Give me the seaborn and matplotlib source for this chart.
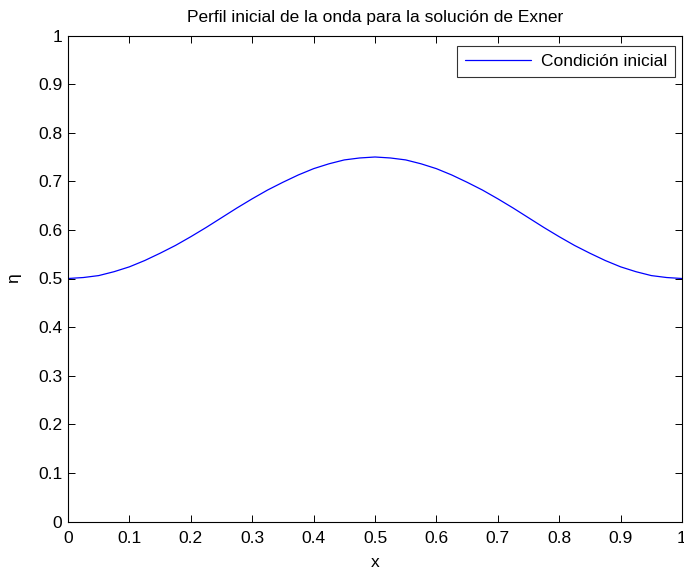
import matplotlib
matplotlib.use("Agg")
import matplotlib.pyplot as plt
import seaborn as sns
import pandas as pd

# Initial bed profile for the Exner problem
x_vals = [0.000, 0.025, 0.050, 0.075, 0.100, 0.125, 0.150, 0.175, 0.200, 0.225,
          0.250, 0.275, 0.300, 0.325, 0.350, 0.375, 0.400, 0.425, 0.450, 0.475,
          0.500, 0.525, 0.550, 0.575, 0.600, 0.625, 0.650, 0.675, 0.700, 0.725,
          0.750, 0.775, 0.800, 0.825, 0.850, 0.875, 0.900, 0.925, 0.950, 0.975,
          1.000]
eta_vals = [0.500, 0.502, 0.506, 0.514, 0.524, 0.537, 0.552, 0.568, 0.586, 0.605,
            0.625, 0.645, 0.664, 0.682, 0.698, 0.713, 0.726, 0.736, 0.744, 0.748,
            0.750, 0.748, 0.744, 0.736, 0.726, 0.713, 0.698, 0.682, 0.664, 0.645,
            0.625, 0.605, 0.586, 0.568, 0.552, 0.537, 0.524, 0.514, 0.506, 0.502,
            0.500]
series_label = "Condición inicial"
x_ticks = [0, 0.1, 0.2, 0.3, 0.4, 0.5, 0.6, 0.7, 0.8, 0.9, 1]
y_ticks = [0, 0.1, 0.2, 0.3, 0.4, 0.5, 0.6, 0.7, 0.8, 0.9, 1]

sns.set_theme(style="white", rc={
    "text.color": "black",
    "axes.labelcolor": "black",
    "xtick.color": "black",
    "ytick.color": "black",
    "axes.edgecolor": "black",
})
plt.rcParams["font.family"] = ["Liberation Sans", "DejaVu Sans"]

df = pd.DataFrame({"x": x_vals, "eta": eta_vals})

fig = plt.figure(figsize=(6.84, 5.70), dpi=100)
ax = fig.add_axes([68 / 684, 1 - 521.5 / 570, 614 / 684, 486 / 570])

sns.lineplot(data=df, x="x", y="eta", ax=ax, color="#0000ff", linewidth=0.9,
             label=series_label)

fs = 12.5
ax.set_xlim(0, 1)
ax.set_ylim(0, 1)
ax.set_xticks(x_ticks)
ax.set_yticks(y_ticks)
ax.set_xticklabels([f"{t:g}" for t in x_ticks], fontsize=fs)
ax.set_yticklabels([f"{t:g}" for t in y_ticks], fontsize=fs)
ax.tick_params(direction="in", length=5, width=0.7, color="black",
               labelcolor="black",
               top=True, right=True, bottom=True, left=True, pad=4)
ax.tick_params(axis="x", pad=6.5)
for side in ax.spines.values():
    side.set_color("black")
    side.set_linewidth(0.8)

ax.set_xlabel("x", fontsize=fs, labelpad=7, color="black")
ax.set_ylabel("η", fontsize=fs, labelpad=12, color="black")
ax.set_title("Perfil inicial de la onda para la solución de Exner",
             fontsize=fs, pad=9.5, color="black")

leg = ax.legend(loc="upper right", bbox_to_anchor=(675 / 684, 1 - 46 / 570),
                bbox_transform=fig.transFigure, fontsize=fs, frameon=True,
                fancybox=False, borderpad=0.45, handlelength=3.8,
                handletextpad=0.6, borderaxespad=0)
leg.get_frame().set_edgecolor("black")
leg.get_frame().set_linewidth(0.8)
for t in leg.get_texts():
    t.set_color("black")

fig.savefig("out.png", dpi=100)
